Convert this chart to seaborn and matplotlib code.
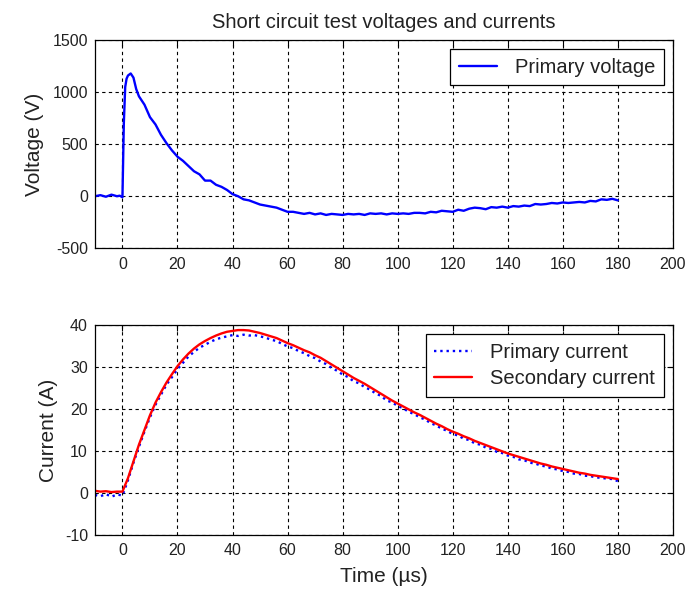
import numpy as np
import pandas as pd
import matplotlib
matplotlib.use("Agg")
import matplotlib.pyplot as plt
import seaborn as sns

# Voltage trace, time in microseconds
t_volt = [-10, -8, -6, -4, -2, -1, 0, 0.5, 1, 1.5, 2, 3, 4, 5, 6, 8,
          10, 12, 14, 16, 18, 20, 22, 24, 26, 28, 30, 32, 34, 36, 38,
          40, 42, 44, 46, 48, 50, 52, 54, 56, 58, 60, 62, 64, 66, 68,
          70, 72, 74, 76, 78, 80, 82, 84, 86, 88, 90, 92, 94, 96, 98,
          100, 102, 104, 106, 108, 110, 112, 114, 116, 118, 120, 122, 124, 126, 128,
          130, 132, 134, 136, 138, 140, 142, 144, 146, 148, 150, 152, 154, 156, 158,
          160, 162, 164, 166, 168, 170, 172, 174, 176, 178, 180]
primary_voltage = [0, 10, -5, 15, 0, 5, -10, 700, 1050, 1130, 1160, 1180, 1140, 1030, 960, 880,
                   760, 690, 590, 510, 440, 380, 340, 290, 240, 210, 150, 150, 110, 90, 60,
                   20, 0, -30, -40, -60, -80, -90, -100, -110, -130, -150, -150, -160, -170, -160,
                   -175, -165, -180, -170, -175, -180, -170, -175, -170, -180, -165, -170, -165, -175, -165,
                   -170, -165, -170, -160, -160, -165, -150, -155, -140, -145, -150, -130, -140, -120, -110,
                   -115, -125, -105, -110, -100, -110, -95, -100, -90, -95, -75, -80, -75, -65, -70,
                   -60, -65, -60, -55, -60, -45, -50, -30, -35, -25, -40]

# Current traces
t_curr = list(range(-10, 182, 2))
secondary_current = [0.5, 0.3, 0.4, 0.2, 0.3, 0.3, 3.5, 7.5, 11.5, 15, 18.5, 21.5, 24, 26.3, 28.3,
                     30.2, 31.8, 33.2, 34.4, 35.4, 36.2, 36.9, 37.5, 38, 38.4, 38.6, 38.8, 38.8, 38.7,
                     38.4, 38.1, 37.7, 37.3, 36.9, 36.3, 35.7, 35.2, 34.6, 34, 33.5, 32.8, 32.2, 31.4,
                     30.6, 29.8, 29, 28.2, 27.4, 26.7, 26, 25.2, 24.4, 23.6, 22.8, 22, 21.3, 20.6, 19.9,
                     19.2, 18.6, 17.9, 17.2, 16.5, 15.9, 15.2, 14.6, 14.1, 13.5, 13, 12.4, 11.9, 11.4,
                     10.9, 10.4, 9.9, 9.4, 9, 8.6, 8.2, 7.8, 7.4, 7, 6.7, 6.3, 6, 5.7, 5.4, 5.1, 4.8,
                     4.6, 4.3, 4.1, 3.9, 3.7, 3.5, 3.3]
primary_current = [-0.5, -0.8, -0.3, -0.9, -0.4, -0.6, 3.0, 7.2, 11, 14.6, 18, 21, 23.4, 25.8, 27.6,
                   29.5, 31, 32.5, 33.6, 34.6, 35.3, 36, 36.6, 37, 37.3, 37.6, 37.4, 37.7, 37.5,
                   37.6, 37.3, 37, 36.5, 36.2, 35.5, 34.9, 34.5, 33.8, 33.3, 32.6, 32.1, 31.3, 30.7,
                   29.8, 29.1, 28.2, 27.6, 26.6, 26.1, 25.2, 24.6, 23.7, 23.1, 22.0, 21.6, 20.7, 20.2,
                   19.3, 18.8, 18, 17.5, 16.6, 16.1, 15.3, 14.8, 14, 13.7, 12.9, 12.6, 11.8, 11.5,
                   10.8, 10.5, 9.8, 9.5, 8.9, 8.6, 8.0, 7.8, 7.2, 7.0, 6.5, 6.3, 5.8, 5.6, 5.2, 5.0,
                   4.6, 4.5, 4.1, 4.0, 3.7, 3.6, 3.4, 3.3, 2.8]

x_ticks = [0, 20, 40, 60, 80, 100, 120, 140, 160, 180, 200]
volt_ticks = [-500, 0, 500, 1000, 1500]
curr_ticks = [-10, 0, 10, 20, 30, 40]

sns.set_style("white")
plt.rcParams['font.family'] = ['Liberation Sans', 'DejaVu Sans']
plt.rcParams['axes.unicode_minus'] = False
plt.rcParams['text.color'] = '#222222'
plt.rcParams['axes.labelcolor'] = '#222222'
plt.rcParams['xtick.color'] = 'black'
plt.rcParams['ytick.color'] = 'black'
plt.rcParams['xtick.labelcolor'] = '#222222'
plt.rcParams['ytick.labelcolor'] = '#222222'

fig = plt.figure(figsize=(6.98, 5.91), dpi=100)
ax1 = fig.add_axes([0.136, 0.580, 0.828, 0.352])
ax2 = fig.add_axes([0.136, 0.095, 0.828, 0.355])

sns.lineplot(x=t_volt, y=primary_voltage, ax=ax1, color='blue', linewidth=1.7,
             label='Primary voltage', estimator=None, sort=False)
sns.lineplot(x=t_curr, y=primary_current, ax=ax2, color='blue', linewidth=1.7,
             linestyle=':', label='Primary current', estimator=None, sort=False)
sns.lineplot(x=t_curr, y=secondary_current, ax=ax2, color='red', linewidth=1.7,
             label='Secondary current', estimator=None, sort=False)

for ax, yt in [(ax1, volt_ticks), (ax2, curr_ticks)]:
    ax.set_xlim(-10, 200)
    ax.set_ylim(yt[0], yt[-1])
    ax.set_xticks(x_ticks)
    ax.set_yticks(yt)
    ax.grid(True, color='black', linestyle=(0, (3, 3)), linewidth=0.8)
    ax.tick_params(direction='in', top=True, right=True, labelsize=11.5, length=4)
    ax.tick_params(axis='x', pad=6)
    ax.tick_params(axis='y', pad=5)
    for s in ax.spines.values():
        s.set_color('black')
        s.set_linewidth(0.9)
    leg = ax.legend(loc='upper right', fancybox=False, edgecolor='black', framealpha=1,
                    fontsize=14.5, handlelength=1.9, handletextpad=0.9, borderpad=0.42,
                    labelspacing=0.38, borderaxespad=0.45)
    leg.get_frame().set_linewidth(0.9)

ax1.set_title('Short circuit test voltages and currents', fontsize=14.5, pad=9)
ax1.set_ylabel('Voltage (V)', fontsize=15, labelpad=6)
ax2.set_ylabel('Current (A)', fontsize=15, labelpad=5)
ax2.set_xlabel('Time (µs)', fontsize=15, labelpad=6)

fig.savefig('out.png', dpi=100)
